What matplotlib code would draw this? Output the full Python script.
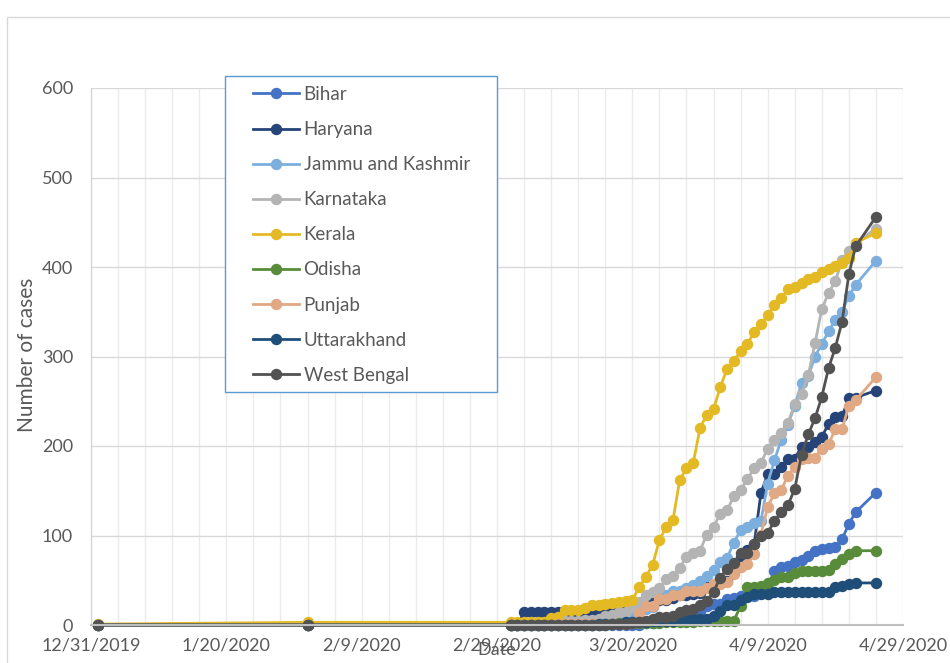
import matplotlib
matplotlib.use('Agg')
import matplotlib.pyplot as plt
import matplotlib.dates as mdates
from matplotlib.patches import Rectangle
from matplotlib.lines import Line2D
import pandas as pd
import numpy as np

# ---------------- data ----------------
early_dates = ['2020-01-01', '2020-02-01']
daily_dates = list(pd.date_range('2020-03-02', '2020-04-22').strftime('%Y-%m-%d'))
late_dates = ['2020-04-25']
dates = pd.to_datetime(early_dates + daily_dates + late_dates)

bihar = [0, 0,
         0, 0, 0, 0, 0, 0, 0, 0, 0, 0,
         0, 0, 0, 0, 0, 0, 0, 0, 0, 0,
         2, 2, 3, 4, 6, 9, 11, 11, 15, 21,
         23, 24, 29, 30, 32, 32, 32, 38, 39, 60,
         65, 66, 70, 73, 77, 83, 85, 86, 87, 96,
         113, 126,
         148]
haryana = [0, 0,
           0, 0, 14, 14, 14, 14, 14, 14, 14, 14,
           14, 14, 14, 14, 14, 14, 15, 16, 17, 17,
           21, 26, 28, 28, 30, 33, 33, 35, 36, 43,
           43, 49, 49, 59, 76, 84, 90, 147, 169, 169,
           177, 185, 186, 199, 199, 205, 210, 225, 232, 233,
           254, 254,
           262]
jammu_kashmir = [0, 0,
                 0, 0, 0, 0, 0, 0, 0, 1, 1, 2,
                 3, 3, 3, 4, 4, 4, 7, 11, 13, 18,
                 18, 20, 31, 33, 38, 38, 41, 45, 49, 55,
                 62, 70, 75, 92, 106, 109, 114, 116, 158, 184,
                 207, 224, 245, 270, 278, 300, 314, 328, 341, 350,
                 368, 380,
                 407]
karnataka = [0, 0,
             0, 0, 0, 0, 0, 0, 0, 1, 4, 4,
             5, 6, 6, 7, 10, 11, 14, 15, 20, 26,
             33, 37, 41, 51, 55, 64, 76, 81, 83, 101,
             110, 124, 128, 144, 151, 163, 175, 181, 197, 207,
             214, 226, 247, 258, 279, 315, 353, 371, 384, 408,
             418, 427,
             443]
kerala = [1, 3,
          3, 3, 3, 3, 3, 3, 8, 9, 17, 17,
          17, 19, 22, 22, 24, 25, 26, 27, 28, 42,
          54, 67, 95, 109, 117, 162, 175, 181, 220, 235,
          241, 266, 286, 295, 306, 314, 327, 336, 346, 358,
          365, 375, 378, 382, 387, 389, 394, 398, 401, 404,
          410, 427,
          438]
odisha = [0, 0,
          0, 0, 0, 0, 0, 0, 0, 0, 0, 0,
          0, 0, 0, 0, 1, 1, 2, 2, 2, 2,
          2, 2, 2, 3, 3, 3, 3, 3, 4, 4,
          4, 4, 5, 5, 21, 42, 42, 44, 47, 50,
          54, 54, 58, 60, 60, 60, 60, 61, 68, 74,
          79, 83,
          83]
punjab = [0, 0,
          0, 0, 0, 0, 0, 0, 0, 1, 1, 1,
          1, 1, 1, 1, 1, 1, 1, 1, 2, 13,
          21, 21, 29, 29, 33, 33, 38, 38, 38, 41,
          46, 46, 48, 57, 65, 68, 79, 101, 132, 147,
          151, 167, 176, 186, 187, 187, 197, 202, 219, 219,
          245, 251,
          277]
uttarakhand = [0, 0,
               0, 0, 0, 0, 0, 0, 0, 0, 0, 0,
               0, 0, 0, 1, 1, 1, 1, 3, 3, 3,
               3, 4, 4, 5, 5, 6, 7, 7, 7, 7,
               10, 16, 22, 22, 28, 31, 35, 35, 35, 37,
               37, 37, 37, 37, 37, 37, 37, 37, 42, 44,
               46, 47,
               47]
west_bengal = [0, 0,
               0, 0, 0, 0, 0, 0, 0, 0, 0, 0,
               0, 0, 0, 0, 0, 1, 1, 1, 2, 3,
               4, 7, 9, 9, 10, 15, 17, 18, 22, 27,
               37, 53, 63, 69, 80, 80, 91, 99, 103, 116,
               126, 134, 152, 190, 213, 231, 255, 287, 310, 339,
               392, 423,
               456]

states = ['Bihar', 'Haryana', 'Jammu and Kashmir', 'Karnataka', 'Kerala',
          'Odisha', 'Punjab', 'Uttarakhand', 'West Bengal']
series = [bihar, haryana, jammu_kashmir, karnataka, kerala,
          odisha, punjab, uttarakhand, west_bengal]
colors = ['#4472C4', '#264478', '#7CAFDD', '#B4B4B4', '#E4BA24',
          '#588C3A', '#E0A883', '#1F4E79', '#525252']

tick_dates = ['2019-12-31', '2020-01-20', '2020-02-09', '2020-02-29',
              '2020-03-20', '2020-04-09', '2020-04-29']
tick_labels = ['12/31/2019', '1/20/2020', '2/9/2020', '2/29/2020',
               '3/20/2020', '4/9/2020', '4/29/2020']
y_ticks = [0, 100, 200, 300, 400, 500, 600]

# ---------------- figure ----------------
W, H = 950, 663
plt.rcParams['font.family'] = ['Lato', 'DejaVu Sans']
txt = '#595959'
fig = plt.figure(figsize=(W / 100, H / 100), dpi=100)
ax = fig.add_axes([91 / W, 1 - 625 / H, (903 - 91) / W, (625 - 88) / H])

for name, vals, c in zip(states, series, colors):
    ax.plot(dates, vals, color=c, lw=2.0, marker='o', markersize=7.2,
            markeredgecolor=c, markerfacecolor=c, label=name, clip_on=False)

x0 = mdates.date2num(pd.Timestamp(tick_dates[0]))
x1 = mdates.date2num(pd.Timestamp(tick_dates[-1]))
ax.set_xlim(x0, x1)
ax.set_ylim(0, 600)
ax.set_xticks(mdates.date2num(pd.to_datetime(tick_dates)))
ax.set_xticklabels(tick_labels)
ax.set_xticks(x0 + np.arange(0, 121, 4), minor=True)
ax.set_yticks(y_ticks)
ax.tick_params(axis='both', which='both', length=0, labelsize=13, labelcolor=txt)
ax.tick_params(axis='x', pad=9)
ax.tick_params(axis='y', pad=13)

ax.grid(axis='x', which='both', color='#EBEBEB', lw=1.0)
ax.grid(axis='y', which='major', color='#D9D9D9', lw=1.0)
ax.set_axisbelow(True)
for s in ['top', 'right']:
    ax.spines[s].set_visible(False)
ax.spines['left'].set_color('#D0D0D0')
ax.spines['bottom'].set_color('#BFBFBF')
ax.spines['bottom'].set_linewidth(1.5)

ax.set_xlabel('Date', fontsize=13, color=txt)
ax.xaxis.set_label_coords(0.5, -(650 - 625) / (625 - 88))
ax.xaxis.label.set_va('center')
fig.text(27 / W, 1 - 355 / H, 'Number of cases', rotation=90, ha='center',
         va='center', fontsize=15, color=txt)

# chart-area border
fig.patches.append(Rectangle((7 / W, -0.02), 1.05, 1 - 17 / H + 0.02,
                             transform=fig.transFigure, fill=False,
                             edgecolor='#D9D9D9', lw=1.0, zorder=0))
# legend box
fig.patches.append(Rectangle((225 / W, 1 - 392 / H), 272 / W, 316 / H,
                             transform=fig.transFigure, facecolor='white',
                             edgecolor='#5B9BD5', lw=1.0, zorder=4))
handles = [Line2D([0], [0], color=c, lw=2.0, marker='o', markersize=7.2)
           for c in colors]
leg = fig.legend(handles, states, loc='upper left',
                 bbox_to_anchor=(253 / W, 1 - 86 / H), frameon=False,
                 borderpad=0, borderaxespad=0, handlelength=2.45,
                 handletextpad=0.25, labelspacing=0.965, fontsize=13.5)
for t in leg.get_texts():
    t.set_color(txt)
leg.set_zorder(6)

fig.savefig('out.png', dpi=100)
